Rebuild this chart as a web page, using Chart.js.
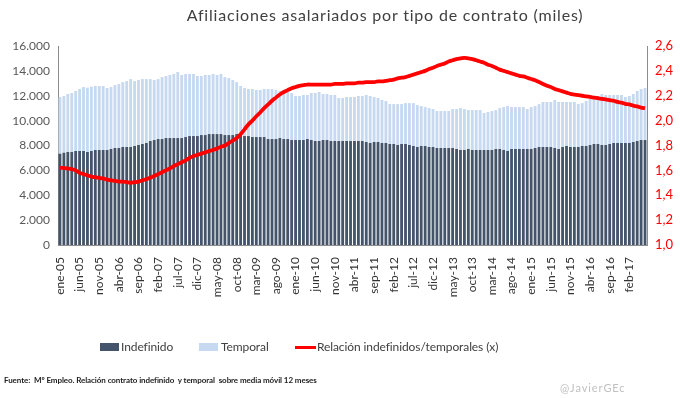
<!DOCTYPE html>
<html>
<head>
<meta charset="utf-8">
<script src="https://cdn.jsdelivr.net/npm/chart.js@4/dist/chart.umd.min.js"></script>
<style>
  body { margin: 0; background: #fff; font-family: Lato, sans-serif; }
  #wrap { position: relative; width: 680px; height: 398px; }
  #chart { position: absolute; left: 0; top: 0; }
  .title { position: absolute; top: 5px; left: 385px; transform: translateX(-50%); white-space: nowrap;
           font-size: 16px; letter-spacing: 0.8px; color: #404040; }
  .lg { position: absolute; font-size: 12px; letter-spacing: -0.1px; color: #404040; white-space: nowrap; }
  .sw { position: absolute; top: 343px; width: 19px; height: 8px; }
  .ln { position: absolute; top: 346px; width: 21px; height: 3px; background: #ff0000; }
  .source { position: absolute; top: 375px; left: 4px; font-size: 8px; letter-spacing: -0.08px; font-weight: bold; color: #222; white-space: nowrap; }
  .credit { position: absolute; top: 381px; left: 560px; font-size: 11px; letter-spacing: 0.9px; color: #c0c0c0; }
</style>
</head>
<body>
<div id="wrap">
  <canvas id="chart" width="680" height="398"></canvas>
  <div class="title">Afiliaciones asalariados por tipo de contrato (miles)</div>
  <span class="sw" style="left:100px;background:#44546a"></span>
  <span class="lg" style="left:121px;top:339px">Indefinido</span>
  <span class="sw" style="left:199px;background:#c6d9f1"></span>
  <span class="lg" style="left:221px;top:339px">Temporal</span>
  <span class="ln" style="left:295px"></span>
  <span class="lg" style="left:317px;top:339px">Relación indefinidos/temporales (x)</span>
  <div class="source">Fuente:&nbsp; Mº Empleo. Relación contrato indefinido&nbsp; y temporal&nbsp; sobre media móvil 12 meses</div>
  <div class="credit">@JavierGEc</div>
</div>
<script>
// meses de ene-05 a jun-17
const monthNames = ["ene", "feb", "mar", "abr", "may", "jun", "jul", "ago", "sep", "oct", "nov", "dic"];
const startYear = 2005;
const nMonths = 150;

// afiliados con contrato indefinido (miles)
const indefinido = [
  7340, 7420, 7480, 7480, 7560, 7560, 7560, 7480, 7560, 7640, 7640, 7640,
  7640, 7720, 7800, 7800, 7880, 7880, 7880, 7960, 8040, 8120, 8200, 8360,
  8440, 8520, 8520, 8600, 8600, 8600, 8600, 8600, 8680, 8760, 8760, 8760,
  8840, 8840, 8920, 8920, 8920, 8920, 8840, 8840, 8840, 8920, 8840, 8760,
  8760, 8680, 8680, 8680, 8680, 8520, 8520, 8520, 8600, 8520, 8520, 8440,
  8440, 8440, 8440, 8520, 8440, 8360, 8360, 8440, 8440, 8360, 8360, 8360,
  8360, 8360, 8360, 8360, 8360, 8360, 8280, 8200, 8280, 8280, 8200, 8200,
  8120, 8120, 8040, 8120, 8120, 8040, 7960, 7880, 7960, 7960, 7880, 7880,
  7800, 7800, 7800, 7800, 7800, 7720, 7640, 7640, 7720, 7640, 7640, 7640,
  7640, 7640, 7640, 7720, 7720, 7640, 7560, 7720, 7720, 7720, 7720, 7720,
  7720, 7800, 7880, 7880, 7880, 7880, 7800, 7720, 7880, 7960, 7880, 7880,
  7880, 7960, 7960, 8040, 8120, 8120, 8040, 8040, 8120, 8200, 8200, 8200,
  8200, 8200, 8280, 8360, 8440, 8440
];

// afiliados con contrato temporal (miles)
const temporal = [
  4560, 4560, 4660, 4740, 4820, 4980, 5140, 5170, 5170, 5140, 5140, 5140,
  4980, 4980, 5060, 5140, 5220, 5300, 5460, 5220, 5220, 5220, 5140, 4980,
  4820, 4820, 4980, 4990, 5070, 5150, 5310, 5070, 5070, 4990, 4990, 4830,
  4750, 4830, 4750, 4830, 4750, 4830, 4660, 4580, 4420, 4180, 3940, 3860,
  3780, 3860, 3780, 3780, 3860, 4020, 4020, 3940, 3780, 3780, 3780, 3780,
  3540, 3540, 3620, 3540, 3780, 3860, 3940, 3700, 3700, 3700, 3700, 3460,
  3460, 3540, 3540, 3540, 3620, 3620, 3780, 3780, 3620, 3540, 3460, 3380,
  3210, 3210, 3290, 3210, 3290, 3370, 3450, 3370, 3210, 3130, 3130, 3050,
  2970, 2970, 2970, 2970, 3130, 3210, 3370, 3290, 3130, 3210, 3210, 3210,
  2970, 3050, 3130, 3130, 3290, 3450, 3610, 3370, 3370, 3370, 3370, 3210,
  3370, 3370, 3450, 3620, 3620, 3620, 3860, 3780, 3620, 3540, 3620, 3620,
  3450, 3450, 3620, 3700, 3780, 3860, 4100, 4020, 3940, 3860, 3860, 3860,
  3700, 3780, 3860, 4020, 4100, 4180
];

// relación indefinidos/temporales (x), media móvil 12 meses
const relacion = [
  1.620, 1.620, 1.615, 1.610, 1.600, 1.580, 1.570, 1.560, 1.550, 1.545, 1.540, 1.535,
  1.525, 1.520, 1.515, 1.510, 1.510, 1.505, 1.500, 1.505, 1.510, 1.520, 1.530, 1.540,
  1.555, 1.570, 1.585, 1.600, 1.615, 1.635, 1.650, 1.665, 1.680, 1.700, 1.715, 1.725,
  1.735, 1.745, 1.755, 1.765, 1.775, 1.790, 1.800, 1.820, 1.840, 1.860, 1.890, 1.930,
  1.970, 2.000, 2.035, 2.065, 2.100, 2.130, 2.160, 2.185, 2.210, 2.230, 2.245, 2.260,
  2.270, 2.280, 2.285, 2.290, 2.290, 2.290, 2.290, 2.290, 2.290, 2.290, 2.295, 2.295,
  2.295, 2.300, 2.300, 2.300, 2.305, 2.305, 2.310, 2.310, 2.310, 2.315, 2.315, 2.320,
  2.325, 2.330, 2.340, 2.345, 2.350, 2.360, 2.370, 2.380, 2.390, 2.400, 2.415, 2.425,
  2.440, 2.450, 2.460, 2.475, 2.485, 2.495, 2.500, 2.505, 2.500, 2.495, 2.485, 2.475,
  2.465, 2.450, 2.440, 2.425, 2.410, 2.400, 2.390, 2.380, 2.370, 2.360, 2.355, 2.345,
  2.335, 2.325, 2.310, 2.295, 2.280, 2.270, 2.255, 2.245, 2.235, 2.225, 2.215, 2.210,
  2.205, 2.200, 2.195, 2.190, 2.185, 2.180, 2.175, 2.170, 2.165, 2.160, 2.150, 2.145,
  2.135, 2.130, 2.120, 2.115, 2.105, 2.100
];

const labels = [];
for (let i = 0; i < nMonths; i++) {
  const y = (startYear + Math.floor(i / 12)) % 100;
  labels.push(monthNames[i % 12] + "-" + String(y).padStart(2, "0"));
}

function miles(v) {
  return String(v).replace(/\B(?=(\d{3})+(?!\d))/g, ".");
}

const axisGray = "#8c8c8c";

new Chart(document.getElementById("chart"), {
  type: "bar",
  data: {
    labels: labels,
    datasets: [
      {
        type: "line",
        label: "Relación indefinidos/temporales (x)",
        data: relacion,
        yAxisID: "y1",
        borderColor: "#ff0000",
        borderWidth: 3.8,
        pointRadius: 0,
        tension: 0.3,
        order: 0,
      },
      {
        label: "Indefinido",
        data: indefinido,
        backgroundColor: "#44546a",
        yAxisID: "y",
        barPercentage: 0.72,
        categoryPercentage: 1,
        order: 1,
      },
      {
        label: "Temporal",
        data: temporal,
        backgroundColor: "#c6d9f1",
        yAxisID: "y",
        barPercentage: 0.72,
        categoryPercentage: 1,
        order: 1,
      },
    ],
  },
  options: {
    responsive: false,
    animation: false,
    layout: { padding: { top: 46, bottom: 93, left: 0, right: 0 } },
    plugins: {
      legend: { display: false },
      title: { display: false },
      tooltip: { enabled: false },
    },
    scales: {
      x: {
        stacked: true,
        grid: { display: false },
        border: { display: true, color: axisGray, width: 1 },
        afterFit: (s) => { s.height = 60; },
        ticks: {
          autoSkip: false,
          minRotation: 90,
          maxRotation: 90,
          padding: 4,
          color: "#333",
          font: { family: "Lato", size: 12 },
          callback: function (val, i) { return i % 5 === 0 ? labels[i] : ""; },
        },
      },
      y: {
        stacked: true,
        position: "left",
        min: 0,
        max: 16000,
        grid: { display: false, drawTicks: false },
        border: { display: true, color: axisGray, width: 1 },
        afterFit: (s) => { s.width = 58; },
        ticks: {
          stepSize: 2000,
          padding: 8,
          color: "#595959",
          font: { family: "Lato", size: 12 },
          callback: (v) => miles(v),
        },
      },
      y1: {
        stacked: false,
        position: "right",
        min: 1.0,
        max: 2.6,
        grid: { display: false, drawTicks: false },
        border: { display: true, color: axisGray, width: 1 },
        afterFit: (s) => { s.width = 33; },
        ticks: {
          stepSize: 0.2,
          padding: 8,
          color: "#ff0000",
          font: { family: "Lato", size: 13 },
          callback: (v) => v.toFixed(1).replace(".", ","),
        },
      },
    },
  },
});
</script>
</body>
</html>
